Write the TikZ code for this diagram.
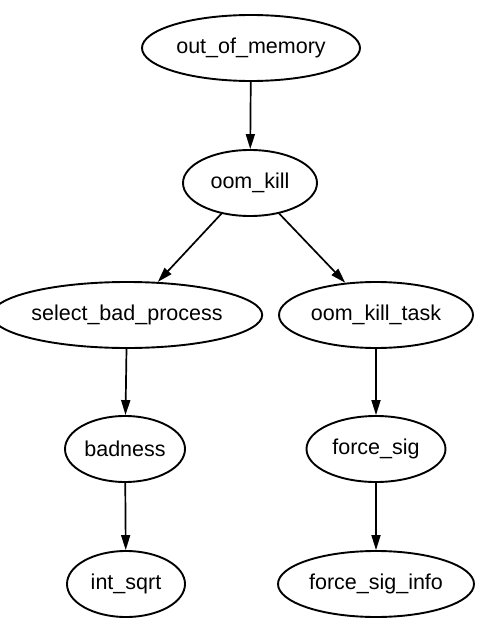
\documentclass[tikz,border=0pt]{standalone}
\usepackage{fontspec}
\setmainfont{Liberation Sans}
\usetikzlibrary{shapes.geometric,arrows.meta}
\begin{document}
\begin{tikzpicture}[x=1pt,y=-1pt,
  fn/.style={draw=black,line width=1.9pt,ellipse,inner sep=0pt,minimum height=66pt,font=\fontsize{21.5}{24}\selectfont},
  edge/.style={draw=black,line width=1.7pt,-{Triangle[length=15pt,width=9pt]}}]
\useasboundingbox (0,0) rectangle (501,623);
\node[fn,minimum width=218pt] (oom) at (251,48) {out\_of\_memory};
\node[fn,minimum width=134pt] (kill) at (250,183) {oom\_kill};
\node[fn,minimum width=238pt] (sel) at (127,315) {select\_bad\_process};
\node[fn,minimum width=194pt] (task) at (376,315) {oom\_kill\_task};
\node[fn,minimum width=120pt] (bad) at (125,449) {badness};
\node[fn,minimum width=139pt] (sig) at (376,449) {force\_sig};
\node[fn,minimum width=118pt] (sqrt) at (126,584) {int\_sqrt};
\node[fn,minimum width=196pt] (info) at (376,584) {force\_sig\_info};
\draw[edge] (oom) -- (kill);
\draw[edge] (kill) -- (sel);
\draw[edge] (kill) -- (task);
\draw[edge] (sel) -- (bad);
\draw[edge] (task) -- (sig);
\draw[edge] (bad) -- (sqrt);
\draw[edge] (sig) -- (info);
\end{tikzpicture}
\end{document}
